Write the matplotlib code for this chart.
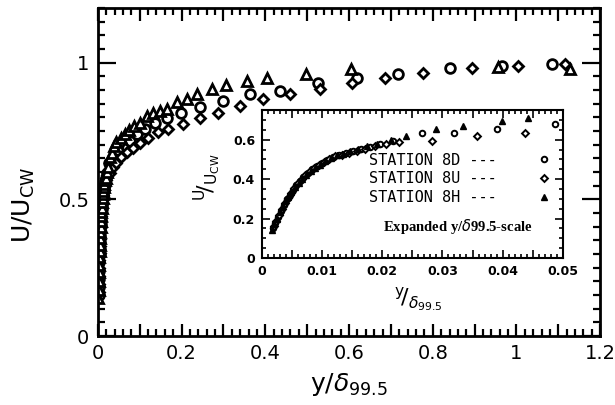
import matplotlib
matplotlib.use("Agg")
import matplotlib.pyplot as plt
from matplotlib.ticker import MultipleLocator, FuncFormatter

plt.rcParams['font.family'] = ['DejaVu Sans']
plt.rcParams['mathtext.fontset'] = 'dejavusans'

# Perfiles de velocidad U/Ucw contra y/delta99.5 (estaciones 8D, 8U, 8H)
y_8D = [0.0018, 0.0022, 0.0027, 0.0031, 0.0036, 0.0041, 0.0046, 0.0051, 0.0057, 0.0063,
        0.0069, 0.0076, 0.0083, 0.0091, 0.0099, 0.0108, 0.0118, 0.0128, 0.0139, 0.0151,
        0.0164, 0.0179, 0.0196, 0.0218, 0.0266, 0.0320, 0.0390, 0.0487,
        0.069, 0.077, 0.093, 0.112, 0.136, 0.165, 0.198, 0.244, 0.299, 0.363,
        0.435, 0.526, 0.619, 0.717, 0.842, 0.966, 1.085]
u_8D = [0.15, 0.18, 0.21, 0.24, 0.27, 0.30, 0.32, 0.345, 0.37, 0.39,
        0.41, 0.43, 0.45, 0.465, 0.48, 0.495, 0.51, 0.525, 0.535, 0.545,
        0.555, 0.565, 0.58, 0.595, 0.635, 0.635, 0.655, 0.68,
        0.690, 0.715, 0.741, 0.759, 0.781, 0.799, 0.818, 0.839, 0.861, 0.887,
        0.898, 0.927, 0.945, 0.960, 0.982, 0.989, 0.996]

y_8U = [0.0020, 0.0024, 0.0029, 0.0033, 0.0038, 0.0043, 0.0048, 0.0054, 0.0060, 0.0066,
        0.0072, 0.0079, 0.0086, 0.0094, 0.0103, 0.0112, 0.0122, 0.0133, 0.0145, 0.0158,
        0.0172, 0.0188, 0.0206, 0.0228, 0.0282, 0.0357, 0.0437, 0.055,
        0.069, 0.084, 0.100, 0.120, 0.143, 0.167, 0.203, 0.244, 0.287, 0.339,
        0.394, 0.459, 0.531, 0.607, 0.686, 0.777, 0.894, 1.004, 1.116]
u_8U = [0.16, 0.19, 0.22, 0.25, 0.28, 0.305, 0.33, 0.355, 0.38, 0.40,
        0.42, 0.44, 0.455, 0.47, 0.485, 0.50, 0.515, 0.525, 0.535, 0.545,
        0.555, 0.57, 0.58, 0.59, 0.595, 0.62, 0.635, 0.655,
        0.672, 0.690, 0.708, 0.723, 0.745, 0.759, 0.777, 0.799, 0.818, 0.843,
        0.869, 0.887, 0.905, 0.927, 0.945, 0.964, 0.982, 0.989, 0.996]

y_8H = [0.0016, 0.0020, 0.0025, 0.0030, 0.0034, 0.0039, 0.0044, 0.0049, 0.0055, 0.0061,
        0.0067, 0.0074, 0.0081, 0.0088, 0.0096, 0.0105, 0.0114, 0.0124, 0.0135, 0.0147,
        0.0160, 0.0175, 0.0192, 0.0214, 0.0240, 0.0290, 0.0334, 0.0399, 0.0442,
        0.055, 0.065, 0.075, 0.087,
        0.100, 0.117, 0.131, 0.148, 0.165, 0.189, 0.213, 0.237, 0.273, 0.306,
        0.356, 0.404, 0.497, 0.605, 0.956, 1.128]
u_8H = [0.14, 0.17, 0.20, 0.235, 0.26, 0.29, 0.31, 0.335, 0.36, 0.38,
        0.40, 0.42, 0.44, 0.455, 0.47, 0.49, 0.505, 0.52, 0.53, 0.545,
        0.555, 0.57, 0.58, 0.60, 0.62, 0.655, 0.67, 0.695, 0.71,
        0.725, 0.74, 0.755, 0.768,
        0.781, 0.807, 0.818, 0.825, 0.832, 0.858, 0.869, 0.887, 0.905, 0.920,
        0.934, 0.945, 0.960, 0.978, 0.985, 0.978]

estaciones = ["STATION 8D ---", "STATION 8U ---", "STATION 8H ---"]

fig = plt.figure(figsize=(6.15, 4.05), dpi=100)

# ---- grafica principal ----
ax = fig.add_axes([0.159, 0.170, 0.817, 0.810])
kw = dict(linestyle='none', markerfacecolor='white', markeredgecolor='black', markeredgewidth=2)
ax.plot(y_8D, u_8D, marker='o', markersize=7, **kw)
ax.plot(y_8U, u_8U, marker='D', markersize=5.5, **kw)
ax.plot(y_8H, u_8H, marker='^', markersize=7, **kw)

ax.set_xlim(0, 1.2)
ax.set_ylim(0, 1.2)
ax.xaxis.set_major_locator(MultipleLocator(0.1))
ax.xaxis.set_minor_locator(MultipleLocator(0.02))
ax.xaxis.set_major_formatter(FuncFormatter(
    lambda v, p: '' if round(v * 10) % 2 else ('0' if v == 0 else '%g' % round(v, 1))))
ax.yaxis.set_major_locator(MultipleLocator(0.5))
ax.yaxis.set_minor_locator(MultipleLocator(0.05))
ax.yaxis.set_major_formatter(FuncFormatter(lambda v, p: '%g' % v))
ax.tick_params(which='both', direction='in', top=True, right=True, width=1.6,
               labelsize=14, pad=6)
ax.tick_params(axis='x', which='major', length=9)
ax.tick_params(axis='y', which='major', length=13)
ax.tick_params(which='minor', length=5)
for s in ax.spines.values():
    s.set_linewidth(2)

ax.set_xlabel(r'y/$\delta_{99.5}$', fontsize=18)
ax.xaxis.set_label_coords(0.5, -0.105)
ax.xaxis.label.set_va('top')
ax.set_ylabel(r'U/U$_{\mathrm{CW}}$', fontsize=18)
ax.yaxis.set_label_coords(-0.12, 0.40)

# ---- recuadro con escala expandida ----
ins = fig.add_axes([0.426, 0.363, 0.489, 0.365])
kw2 = dict(linestyle='none', markerfacecolor='white', markeredgecolor='black', markeredgewidth=1.4)
h1, = ins.plot(y_8D, u_8D, marker='o', markersize=4, label=estaciones[0], **kw2)
h2, = ins.plot(y_8U, u_8U, marker='D', markersize=3.5, label=estaciones[1], **kw2)
h3, = ins.plot(y_8H, u_8H, marker='^', markersize=4, linestyle='none', color='black',
               label=estaciones[2])
ins.set_xlim(0, 0.05)
ins.set_ylim(0, 0.75)
ins.xaxis.set_major_locator(MultipleLocator(0.005))
ins.xaxis.set_minor_locator(MultipleLocator(0.001))
ins.xaxis.set_major_formatter(FuncFormatter(
    lambda v, p: '' if round(v * 1000) % 10 else ('0' if v == 0 else '%g' % round(v, 2))))
ins.yaxis.set_major_locator(MultipleLocator(0.2))
ins.yaxis.set_minor_locator(MultipleLocator(0.05))
ins.yaxis.set_major_formatter(FuncFormatter(lambda v, p: '0' if v == 0 else '%g' % round(v, 1)))
ins.tick_params(which='both', direction='in', top=True, right=True, width=1.2,
                labelsize=9, pad=5)
ins.tick_params(which='major', length=6)
ins.tick_params(which='minor', length=3)
for lab in ins.get_xticklabels() + ins.get_yticklabels():
    lab.set_fontweight('bold')
for s in ins.spines.values():
    s.set_linewidth(1.5)

ins.set_xlabel(r'$^{\mathrm{y}}\!/_{\delta_{99.5}}$', fontsize=16)
ins.set_ylabel(r'$^{\mathrm{U}}\!/_{\mathrm{U}_{\mathrm{CW}}}$', fontsize=16)
ins.xaxis.set_label_coords(0.52, -0.19)
ins.xaxis.label.set_va('top')
ins.yaxis.set_label_coords(-0.13, 0.55)

ins.legend(handles=[h1, h2, h3], loc='upper left', bbox_to_anchor=(0.33, 0.765),
           markerfirst=False, frameon=False, handlelength=1.0, handletextpad=2.6,
           labelspacing=0.25, borderpad=0, prop={'family': 'DejaVu Sans Mono', 'size': 11})
ins.text(0.65, 0.21, r'Expanded y/$\delta$99.5-scale', transform=ins.transAxes,
         ha='center', va='center', fontsize=10.5, fontweight='bold', family='Liberation Serif')

plt.savefig('out.png', dpi=100)
